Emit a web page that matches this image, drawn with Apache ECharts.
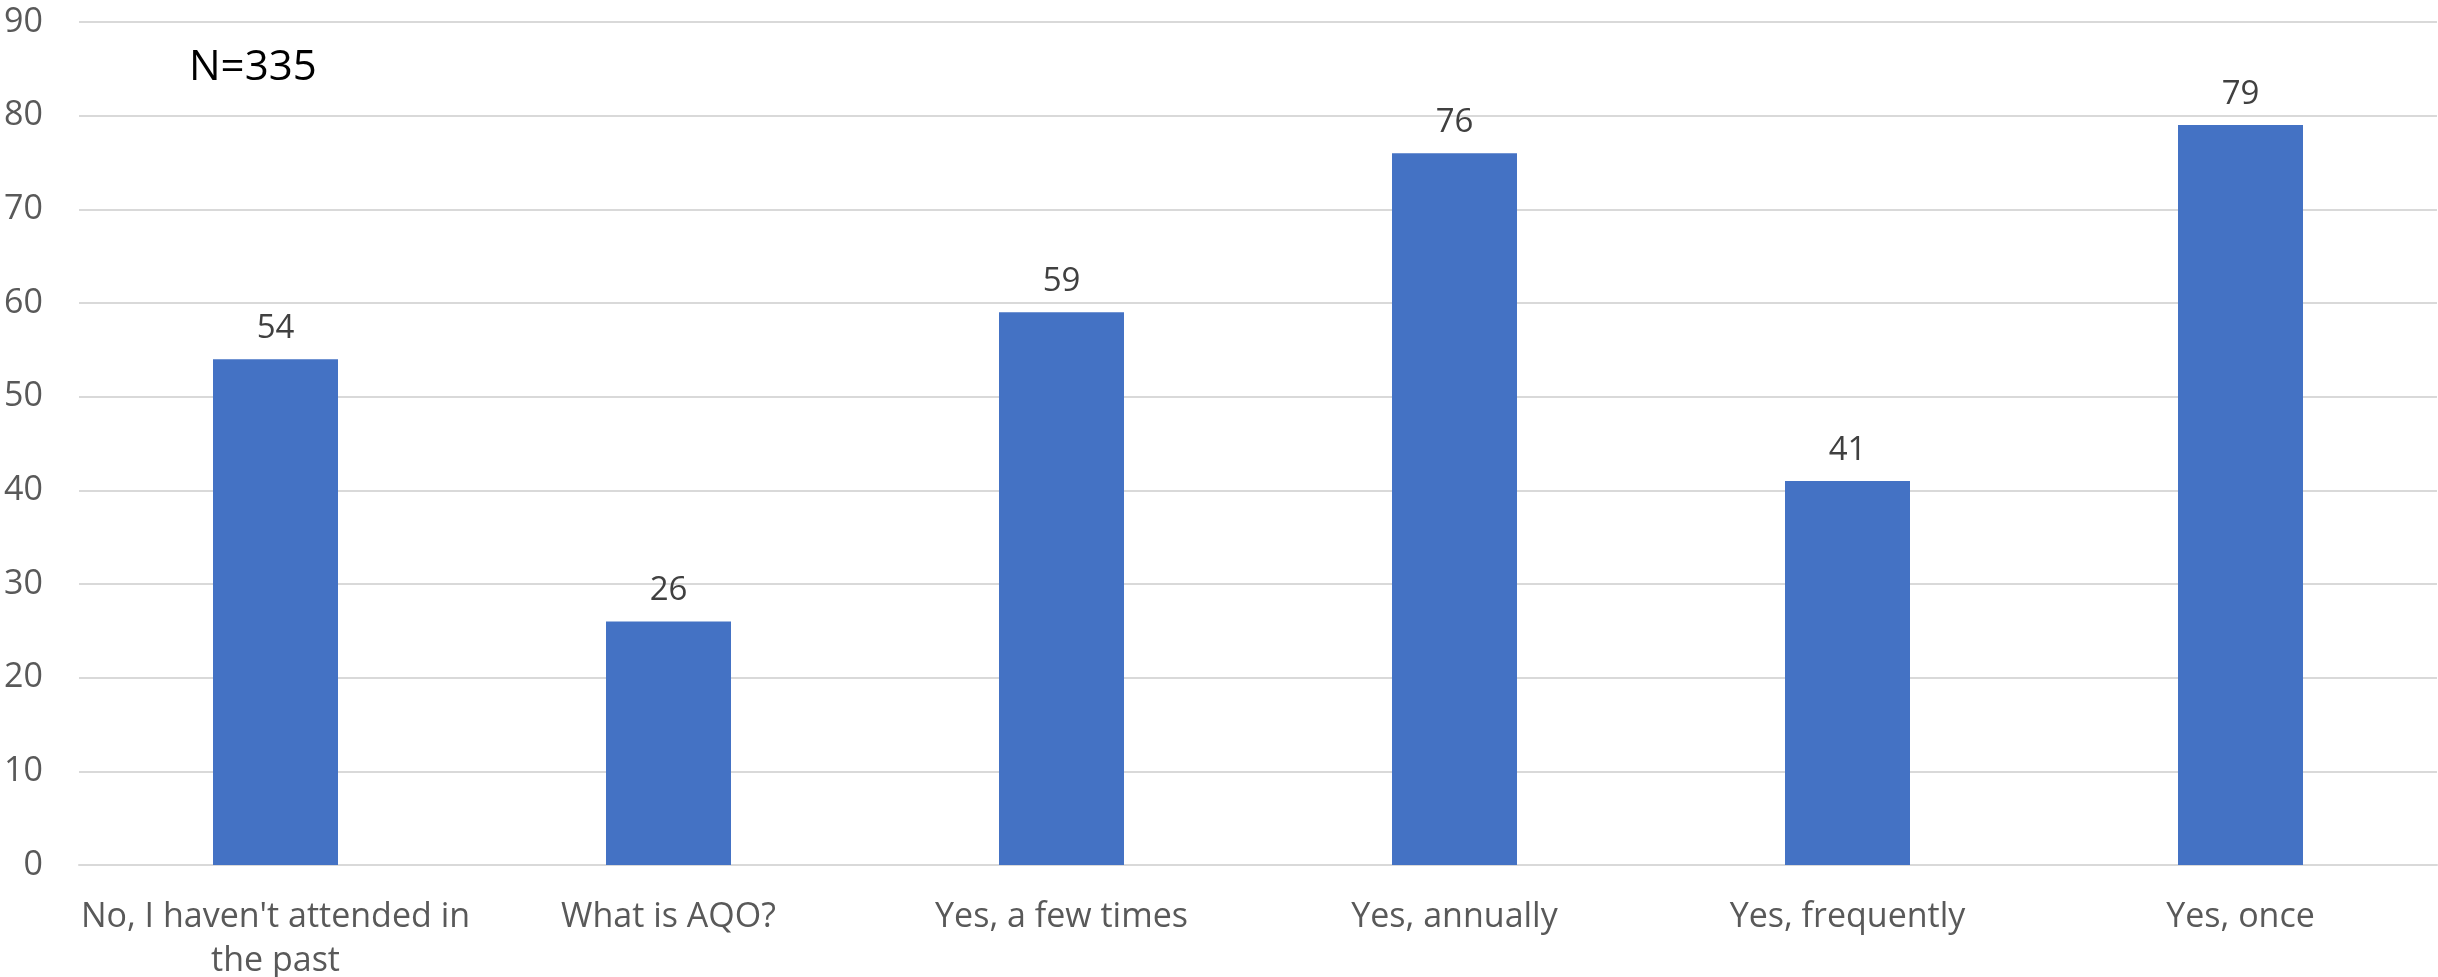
<!DOCTYPE html>
<html><head><meta charset="utf-8">
<script src="https://cdn.jsdelivr.net/npm/echarts@6/dist/echarts.min.js"></script>
<style>html,body{margin:0;padding:0;background:#fff}#c{width:2438px;height:977px}</style>
</head><body><div id="c"></div>
<script>
const categories = ["No, I haven't attended in\nthe past", "What is AQO?", "Yes, a few times", "Yes, annually", "Yes, frequently", "Yes, once"];
const values = [54, 26, 59, 76, 41, 79];
const yTicks = {min: 0, max: 90, interval: 10};
const noteText = "N=335";

const chart = echarts.init(document.getElementById('c'));
chart.setOption({
  animation: false,
  textStyle: {fontFamily: "Open Sans"},
  grid: {left: 79, right: 1, top: 22, bottom: 112, containLabel: false, outerBoundsMode: 'none'},
  graphic: [{type: 'text', left: 189, top: 47, style: {text: noteText, fontSize: 42, fill: '#000', fontFamily: 'Open Sans'}}],
  xAxis: {
    type: 'category', data: categories,
    axisLine: {lineStyle: {color: '#d9d9d9', width: 2}},
    axisTick: {show: false},
    axisLabel: {color: '#595959', fontSize: 34, lineHeight: 44, margin: 30, interval: 0}
  },
  yAxis: {
    type: 'value', min: yTicks.min, max: yTicks.max, interval: yTicks.interval,
    axisLine: {show: false}, axisTick: {show: false},
    splitLine: {lineStyle: {color: '#d9d9d9', width: 2}},
    axisLabel: {color: '#595959', fontSize: 34, margin: 36}
  },
  series: [{
    type: 'bar', data: values, barWidth: 125,
    itemStyle: {color: '#4472c4'},
    label: {show: true, position: 'top', color: '#404040', fontSize: 33, distance: 14}
  }]
});
</script></body></html>
